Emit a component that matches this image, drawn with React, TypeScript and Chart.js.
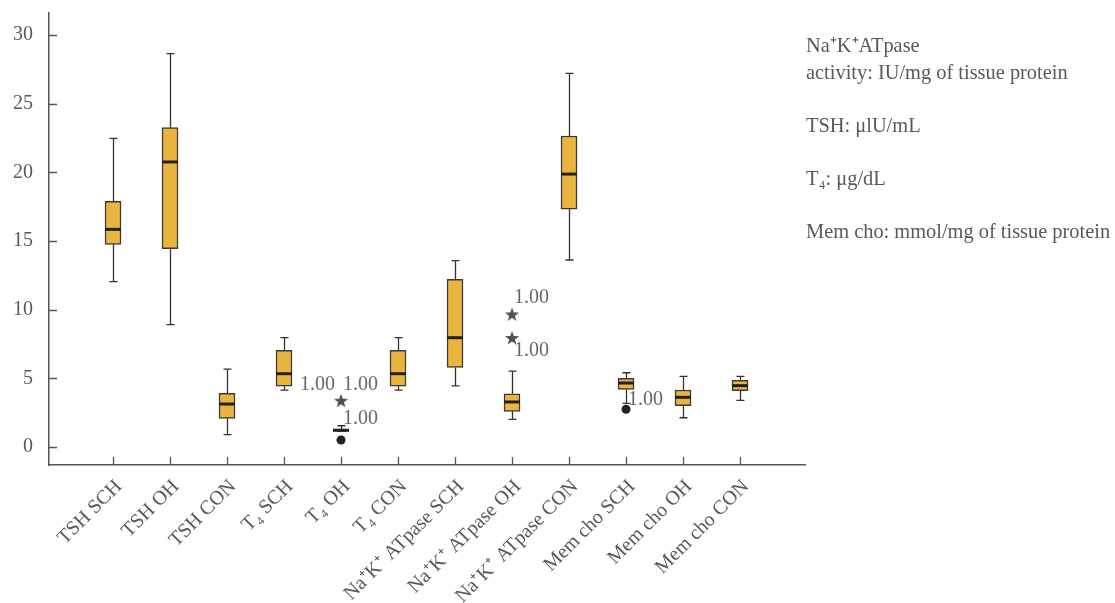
import React, { useEffect, useRef } from 'react';
import { Chart, registerables } from 'chart.js';

Chart.register(...registerables);

// ---------- data ----------
const categories = [
  'TSH SCH', 'TSH OH', 'TSH CON',
  'T₄ SCH', 'T₄ OH', 'T₄ CON',
  'Na⁺K⁺ ATpase SCH', 'Na⁺K⁺ ATpase OH', 'Na⁺K⁺ ATpase CON',
  'Mem cho SCH', 'Mem cho OH', 'Mem cho CON',
];
const whiskerLow = [12.04, 8.91, 0.9, 4.15, 1.15, 4.15, 4.46, 2.02, 13.62, 3.18, 2.13, 3.4];
const q1 = [14.76, 14.44, 2.09, 4.44, 1.15, 4.44, 5.8, 2.6, 17.33, 4.2, 3.01, 4.1];
const median = [15.85, 20.76, 3.13, 5.34, 1.22, 5.34, 7.96, 3.28, 19.88, 4.66, 3.62, 4.47];
const q3 = [17.9, 23.26, 3.91, 7.04, 1.3, 7.04, 12.21, 3.88, 22.65, 5.0, 4.15, 4.86];
const whiskerHigh = [22.48, 28.65, 5.68, 7.96, 1.55, 7.96, 13.57, 5.53, 27.22, 5.41, 5.15, 5.15];

const circleOutlierCat = [4, 9];
const circleOutlierVal = [0.51, 2.75];
const starOutlierCat = [4, 7, 7];
const starOutlierVal = [3.37, 9.66, 7.94];

const outlierLabelCat = [4, 4, 4, 7, 7, 9];
const outlierLabelVal = [4.52, 4.52, 2.04, 10.85, 6.99, 3.42];
const outlierLabelText = ['1.00', '1.00', '1.00', '1.00', '1.00', '1.00'];
const outlierLabelSide = ['left', 'right', 'right', 'right', 'right', 'right'];

const yTicks = [0, 5, 10, 15, 20, 25, 30];
const unitNotes = [
  'Na⁺K⁺ATpase',
  'activity: IU/mg of tissue protein',
  '',
  'TSH: μlU/mL',
  '',
  'T₄: μg/dL',
  '',
  'Mem cho: mmol/mg of tissue protein',
];

// ---------- styles ----------
const FONT = '"Liberation Serif", "Times New Roman", serif';
const TEXT = '#595959';
const AXIS = '#555555';
const BOX_FILL = '#E9B43F';
const BOX_EDGE = '#3a3a3a';

function makeStar(): HTMLCanvasElement {
  const c = document.createElement('canvas');
  c.width = 16;
  c.height = 16;
  const g = c.getContext('2d')!;
  g.fillStyle = '#505050';
  g.beginPath();
  for (let k = 0; k < 10; k++) {
    const r = k % 2 === 0 ? 7.5 : 3.0;
    const a = -Math.PI / 2 + (k * Math.PI) / 5;
    const px = 8 + r * Math.cos(a);
    const py = 8.5 + r * Math.sin(a);
    if (k === 0) g.moveTo(px, py);
    else g.lineTo(px, py);
  }
  g.closePath();
  g.fill();
  return c;
}

const boxPlugin = {
  id: 'boxExtras',
  beforeDatasetsDraw(chart: any) {
    const { ctx, scales } = chart;
    const x = scales.x;
    const y = scales.y;
    ctx.save();
    ctx.strokeStyle = '#333333';
    ctx.lineWidth = 1.3;
    categories.forEach((_, i) => {
      const px = Math.round(x.getPixelForValue(i)) + 0.5;
      const lo = y.getPixelForValue(whiskerLow[i]);
      const hi = y.getPixelForValue(whiskerHigh[i]);
      const b = y.getPixelForValue(q1[i]);
      const t = y.getPixelForValue(q3[i]);
      ctx.beginPath();
      ctx.moveTo(px, hi);
      ctx.lineTo(px, t);
      ctx.moveTo(px, b);
      ctx.lineTo(px, lo);
      ctx.moveTo(px - 4, hi);
      ctx.lineTo(px + 4, hi);
      ctx.moveTo(px - 4, lo);
      ctx.lineTo(px + 4, lo);
      ctx.stroke();
    });
    ctx.restore();
  },
  afterDatasetsDraw(chart: any) {
    const { ctx, scales, chartArea } = chart;
    const x = scales.x;
    const y = scales.y;
    ctx.save();
    // medians
    ctx.strokeStyle = '#222222';
    ctx.lineWidth = 3;
    categories.forEach((_, i) => {
      const px = x.getPixelForValue(i);
      const m = y.getPixelForValue(median[i]);
      ctx.beginPath();
      ctx.moveTo(px - 8, m);
      ctx.lineTo(px + 8, m);
      ctx.stroke();
    });
    // inward tick marks
    ctx.strokeStyle = AXIS;
    ctx.lineWidth = 1.3;
    ctx.beginPath();
    yTicks.forEach((v) => {
      const py = Math.round(y.getPixelForValue(v)) + 0.5;
      ctx.moveTo(chartArea.left, py);
      ctx.lineTo(chartArea.left + 8, py);
    });
    categories.forEach((_, i) => {
      const px = Math.round(x.getPixelForValue(i)) + 0.5;
      ctx.moveTo(px, chartArea.bottom);
      ctx.lineTo(px, chartArea.bottom - 8);
    });
    ctx.stroke();
    // outlier labels
    ctx.font = `20px ${FONT}`;
    ctx.fillStyle = '#666666';
    ctx.textBaseline = 'middle';
    outlierLabelCat.forEach((c, i) => {
      const px = x.getPixelForValue(c);
      const py = y.getPixelForValue(outlierLabelVal[i]);
      if (outlierLabelSide[i] === 'left') {
        ctx.textAlign = 'right';
        ctx.fillText(outlierLabelText[i], px - 6, py);
      } else {
        ctx.textAlign = 'left';
        ctx.fillText(outlierLabelText[i], px + 2, py);
      }
    });
    // unit notes
    ctx.font = `20.4px ${FONT}`;
    ctx.fillStyle = TEXT;
    ctx.textAlign = 'left';
    unitNotes.forEach((line, i) => {
      if (line) ctx.fillText(line, chartArea.right + 1, 47 + i * 26.5);
    });
    ctx.restore();
  },
};

export default function App() {
  const canvasRef = useRef<HTMLCanvasElement | null>(null);

  useEffect(() => {
    document.body.style.margin = '0';
    const canvas = canvasRef.current;
    if (!canvas) return;
    const star = makeStar();

    const chart = new Chart(canvas, {
      type: 'bar',
      data: {
        datasets: [
          {
            type: 'bar',
            data: categories.map((_, i) => ({ x: i, y: [q1[i], q3[i]] })) as any,
            backgroundColor: BOX_FILL,
            borderColor: BOX_EDGE,
            borderWidth: 1.5,
            borderSkipped: false,
            barThickness: 16,
          },
          {
            type: 'scatter',
            data: circleOutlierCat.map((c, i) => ({ x: c, y: circleOutlierVal[i] })),
            pointStyle: 'circle',
            pointRadius: 4.5,
            backgroundColor: '#222222',
            borderColor: '#222222',
            borderWidth: 0,
          },
          {
            type: 'scatter',
            data: starOutlierCat.map((c, i) => ({ x: c, y: starOutlierVal[i] })),
            pointStyle: star as any,
            pointRadius: 8,
          },
        ] as any,
      },
      options: {
        animation: false,
        responsive: false,
        events: [],
        layout: { padding: { top: 13, right: 310, left: 0, bottom: 0 } },
        plugins: {
          legend: { display: false },
          tooltip: { enabled: false },
        },
        scales: {
          x: {
            type: 'linear',
            offset: false,
            min: -1.123,
            max: 12.14,
            grid: { display: false, offset: false },
            border: { display: true, color: AXIS, width: 1.5 },
            afterBuildTicks: (scale: any) => {
              scale.ticks = categories.map((_, i) => ({ value: i }));
            },
            afterFit: (scale: any) => {
              scale.height = 138;
              scale.paddingLeft = 0;
              scale.paddingRight = 0;
            },
            ticks: {
              autoSkip: false,
              minRotation: 45,
              maxRotation: 45,
              padding: 2,
              labelOffset: 6,
              color: TEXT,
              font: { family: FONT, size: 20 },
              callback: (v: any) => categories[Number(v)] ?? '',
            },
          },
          y: {
            type: 'linear',
            min: -1.31,
            max: 31.61,
            grid: { display: false },
            border: { display: true, color: AXIS, width: 1.5 },
            afterBuildTicks: (scale: any) => {
              scale.ticks = yTicks.map((v) => ({ value: v }));
            },
            afterFit: (scale: any) => {
              scale.width = 49;
              scale.paddingTop = 0;
              scale.paddingBottom = 0;
            },
            ticks: {
              padding: 8,
              color: TEXT,
              font: { family: FONT, size: 20 },
              callback: (v: any) => String(v),
            },
          },
        },
      } as any,
      plugins: [boxPlugin],
    });

    return () => chart.destroy();
  }, []);

  return (
    <div style={{ width: 1115, height: 603, position: 'relative', background: '#fff' }}>
      <canvas ref={canvasRef} width={1115} height={603} />
    </div>
  );
}
